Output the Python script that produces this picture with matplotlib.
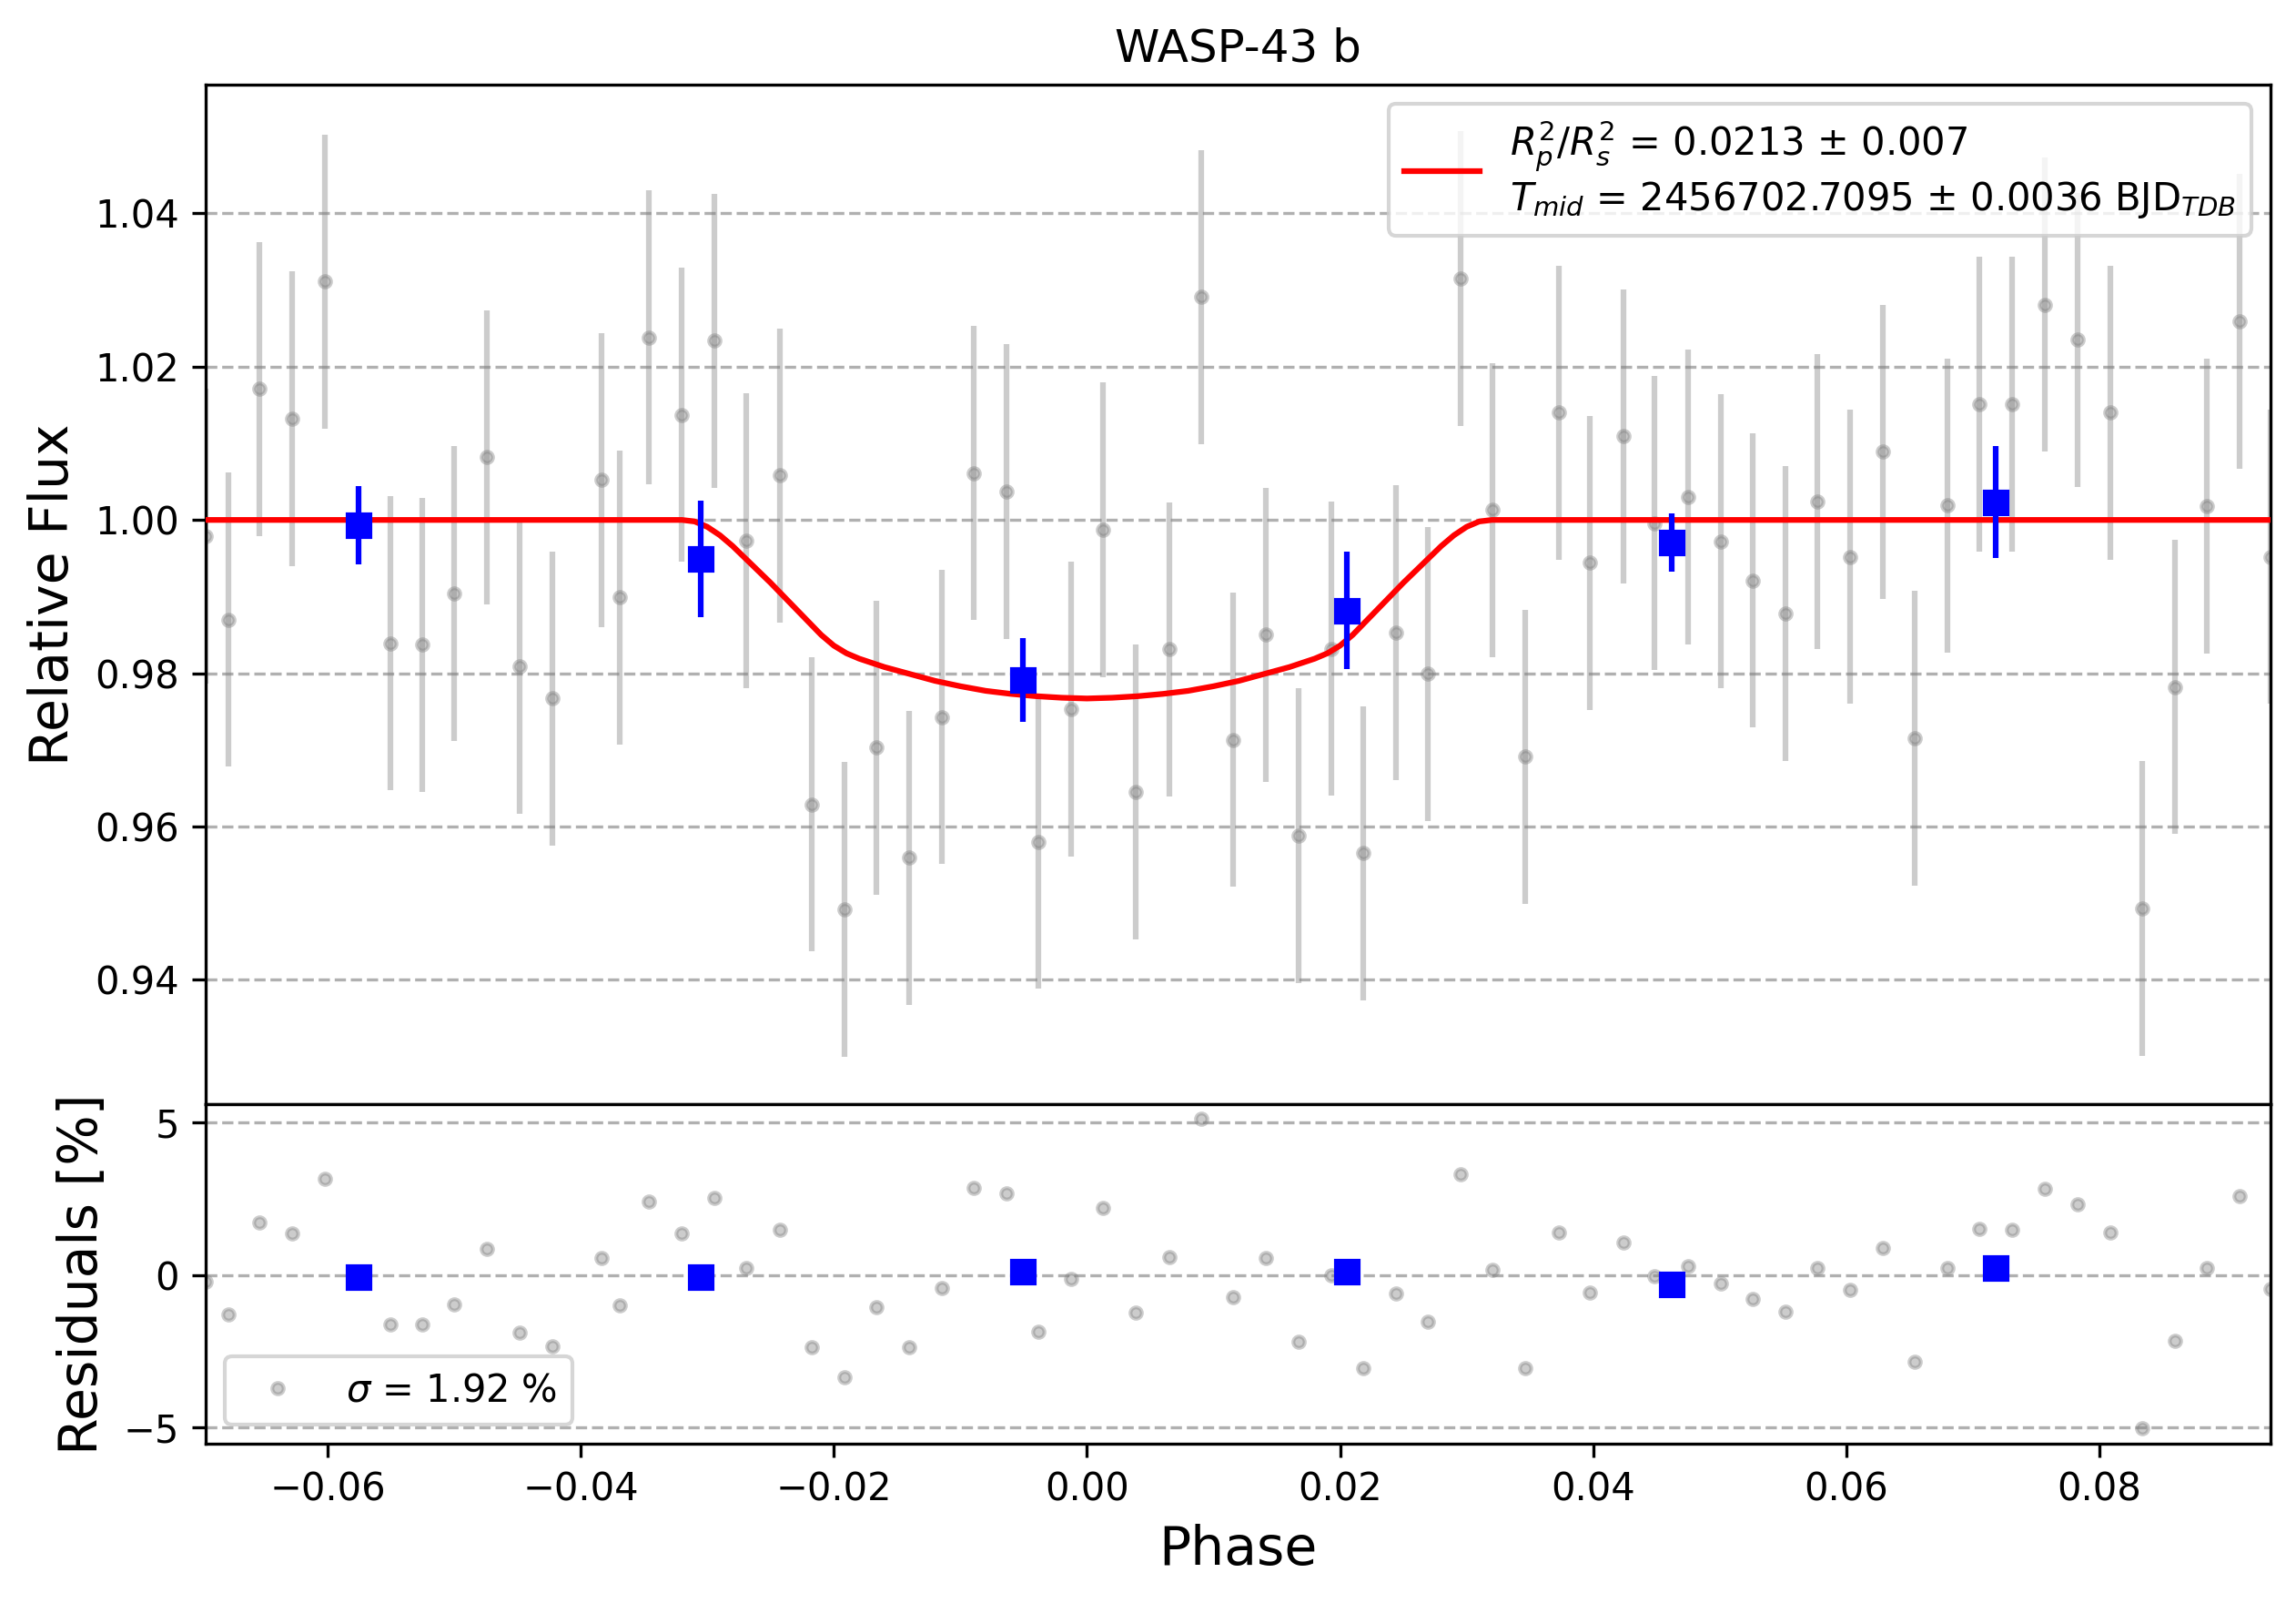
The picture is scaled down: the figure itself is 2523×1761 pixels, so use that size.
import numpy as np
import matplotlib
matplotlib.use("Agg")
import matplotlib.pyplot as plt

# ---------------- data ----------------
phase = [-0.06963, -0.06787, -0.06536, -0.06280, -0.06023, -0.05505, -0.05254, -0.04998,
         -0.04741, -0.04485, -0.04223, -0.03835, -0.03693, -0.03459, -0.03203, -0.02946,
         -0.02690, -0.02426, -0.02175, -0.01919, -0.01666, -0.01407, -0.01147, -0.00894,
         -0.00634, -0.00383, -0.00125, 0.00129, 0.00388, 0.00648, 0.00901, 0.01158,
         0.01411, 0.01670, 0.01931, 0.02185, 0.02441, 0.02695, 0.02951, 0.03207,
         0.03464, 0.03726, 0.03977, 0.04239, 0.04487, 0.04749, 0.05008, 0.05259,
         0.05521, 0.05772, 0.06031, 0.06290, 0.06544, 0.06801, 0.07053, 0.07313,
         0.07570, 0.07825, 0.08085, 0.08336, 0.08596, 0.08848, 0.09108, 0.09352]

flux = [0.9979, 0.9870, 1.0171, 1.0132, 1.0311, 0.9839, 0.9837, 0.9904,
        1.0082, 0.9809, 0.9767, 1.0052, 0.9899, 1.0238, 1.0137, 1.0234,
        0.9973, 1.0058, 0.9629, 0.9492, 0.9703, 0.9559, 0.9743, 1.0061,
        1.0037, 0.9580, 0.9753, 0.9987, 0.9645, 0.9831, 1.0291, 0.9713,
        0.9850, 0.9588, 0.9832, 0.9565, 0.9853, 0.9799, 1.0315, 1.0013,
        0.9691, 1.0140, 0.9944, 1.0109, 0.9996, 1.0030, 0.9972, 0.9921,
        0.9878, 1.0024, 0.9952, 1.0089, 0.9715, 1.0019, 1.0151, 1.0151,
        1.0281, 1.0235, 1.0140, 0.9493, 0.9782, 1.0018, 1.0259, 0.9952]

FLUX_ERR = 0.0192

residuals = [-0.21, -1.29, 1.74, 1.36, 3.15, -1.63, -1.63, -0.96,
             0.85, -1.89, -2.34, 0.55, -0.99, 2.41, 1.38, 2.53,
             0.23, 1.50, -2.37, -3.36, -1.05, -2.37, -0.42, 2.85,
             2.67, -1.86, -0.11, 2.22, -1.24, 0.59, 5.13, -0.73,
             0.55, -2.19, 0.00, -3.04, -0.60, -1.53, 3.31, 0.16,
             -3.06, 1.41, -0.57, 1.08, -0.03, 0.30, -0.27, -0.78,
             -1.19, 0.24, -0.48, 0.90, -2.84, 0.22, 1.53, 1.49,
             2.82, 2.34, 1.41, -5.02, -2.16, 0.22, 2.58, -0.46]

bin_phase = [-0.05758, -0.03054, -0.00506, 0.02054, 0.04618, 0.07184]
bin_flux = [0.9993, 0.9949, 0.9791, 0.9882, 0.9970, 1.0023]
bin_err = [0.0051, 0.0076, 0.0055, 0.0077, 0.0038, 0.0073]
bin_resid = [-0.06, -0.06, 0.12, 0.12, -0.30, 0.24]

model_phase = [-0.06963, -0.0320, -0.0310, -0.0300, -0.0290, -0.0280, -0.0270, -0.0260,
               -0.0250, -0.0240, -0.0230, -0.0220, -0.0210, -0.0200, -0.0190, -0.0180,
               -0.0160, -0.0140, -0.0120, -0.0100, -0.0080, -0.0060, -0.0040, -0.0020,
               0.0000, 0.0020, 0.0040, 0.0060, 0.0080, 0.0100, 0.0120, 0.0140,
               0.0160, 0.0180, 0.0190, 0.0200, 0.0210, 0.0220, 0.0230, 0.0240,
               0.0250, 0.0260, 0.0270, 0.0280, 0.0290, 0.0300, 0.0310, 0.0320, 0.09352]
model_flux = [1.0000, 1.0000, 0.9998, 0.9991, 0.9980, 0.9966, 0.9950, 0.9934,
              0.9918, 0.9901, 0.9884, 0.9867, 0.9850, 0.9836, 0.9826, 0.9819,
              0.9808, 0.9799, 0.9790, 0.9783, 0.9777, 0.9773, 0.9770, 0.9768,
              0.9767, 0.9768, 0.9770, 0.9773, 0.9777, 0.9783, 0.9790, 0.9799,
              0.9808, 0.9819, 0.9826, 0.9836, 0.9850, 0.9867, 0.9884, 0.9901,
              0.9918, 0.9934, 0.9950, 0.9966, 0.9980, 0.9991, 0.9998, 1.0000, 1.0000]

model_label = (r"$R^{2}_{p}/R^{2}_{s}$ = 0.0213 $\pm$ 0.007" "\n"
               r"$T_{mid}$ = 2456702.7095 $\pm$ 0.0036 BJD$_{TDB}$")
sigma_label = r"$\sigma$ = 1.92 %"

# ---------------- figure ----------------
fig = plt.figure(figsize=(2523 / 300, 1761 / 300), dpi=300)
gs = fig.add_gridspec(2, 1, height_ratios=[3, 1], hspace=0,
                      left=0.0896, right=0.9889, top=0.9472, bottom=0.0994)
ax1 = fig.add_subplot(gs[0])
ax2 = fig.add_subplot(gs[1], sharex=ax1)

ax1.errorbar(phase, flux, yerr=FLUX_ERR, fmt='o', ms=3, color='gray', alpha=0.4)
ax1.plot(model_phase, model_flux, color='red', lw=1.5, label=model_label, zorder=3)
ax1.errorbar(bin_phase, bin_flux, yerr=bin_err, fmt='s', color='blue', zorder=4)
ax1.set_title('WASP-43 b', fontsize=12)
ax1.set_ylabel('Relative Flux', fontsize=14)
ax1.grid(True, axis='y', ls='--')
ax1.legend(loc='upper right', fontsize=10)
ax1.tick_params(axis='x', bottom=False, labelbottom=False)
ax1.set_xlim(phase[0], phase[-1])
ax1.set_ylim(0.9238, 1.0568)
ax1.set_yticks([0.94, 0.96, 0.98, 1.00, 1.02, 1.04])

ax2.plot(phase, residuals, 'o', ms=3, color='gray', alpha=0.4, label=sigma_label)
ax2.plot(bin_phase, bin_resid, 's', color='blue', zorder=4)
ax2.set_ylim(-5.53, 5.62)
ax2.set_yticks([-5, 0, 5])
ax2.grid(True, axis='y', ls='--')
ax2.set_xlabel('Phase', fontsize=14)
ax2.set_ylabel('Residuals [%]', fontsize=14)
ax2.legend(loc='lower left', fontsize=10)
ax2.set_xlim(phase[0], phase[-1])

fig.savefig('out.png', dpi=300)
